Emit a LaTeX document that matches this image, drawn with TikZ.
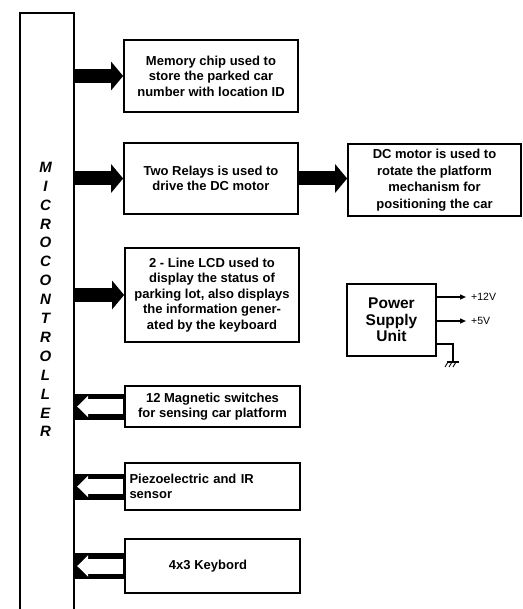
\documentclass[tikz,border=0pt]{standalone}
\usepackage{fontspec}
\setmainfont{Liberation Sans}
\usetikzlibrary{arrows.meta,calc}
\begin{document}
\begin{tikzpicture}[x=1pt,y=-1pt,
  box/.style={draw, line width=1.7pt, rectangle, inner sep=2pt, align=center,
    font=\bfseries\fontsize{13}{15.5}\selectfont},
  outarrow/.style={line width=14pt, -{Triangle[length=12pt,width=28pt]}},
  inbar/.style={line width=26pt},
  inhead/.style={white, line width=15pt, -{Triangle[length=11pt,width=21pt]}},
  thin/.style={line width=1.3pt},
  vlabel/.style={anchor=west, inner sep=1pt, font=\fontsize{10.5}{12}\selectfont}
]
\useasboundingbox (0,0) rectangle (522,609);

% microcontroller strip
\node[minimum width=54pt, minimum height=606pt, inner sep=0pt] (mc) at (47,316) {};
\draw[line width=1.7pt] (mc.south west) |- (mc.north east) -- (mc.south east);
\node[align=center, inner sep=0pt, font=\bfseries\itshape\fontsize{15}{18.9}\selectfont]
  (mclabel) at (45.5,299.5) {M\\I\\C\\R\\O\\C\\O\\N\\T\\R\\O\\L\\L\\E\\R};

% output blocks
\node[box, minimum width=174pt, minimum height=72pt] (mem) at (211,76)
  {Memory chip used to\\store the parked car\\number with location ID};
\node[box, minimum width=174pt, minimum height=71pt] (relay) at (211,178.5)
  {Two Relays is used to\\drive the DC motor};
\node[box, minimum width=173pt, minimum height=72pt, font=\bfseries\fontsize{13}{16.5}\selectfont] (dcm) at (434.5,180)
  {DC motor is used to\\rotate the platform\\mechanism for\hspace*{1.2em}\\positioning the car};
\node[box, minimum width=174pt, minimum height=94pt] (lcd) at (212,295)
  {2 - Line LCD used to\\display the status of\\parking lot, also displays\\the information gener-\\ated by the keyboard};
\node[box, minimum width=89pt, minimum height=72pt, font=\bfseries\fontsize{15.5}{16.5}\selectfont] (psu) at (391.5,320)
  {Power\\Supply\\Unit};

% input blocks
\node[box, minimum width=175pt, minimum height=41pt] (mag) at (212.5,406.5)
  {12 Magnetic switches\\for sensing car platform};
\node[box, minimum width=175pt, minimum height=47pt, align=left, text width=166pt, inner sep=2pt] (piezo) at (212.5,486.5)
  {Piezoelectric and IR\\sensor};
\node[box, minimum width=175pt, minimum height=54pt] (kbd) at (212.5,566)
  {4x3 Keybord\hspace*{9pt}};

% output arrows
\foreach \b in {mem,relay,lcd}
  \draw[outarrow] (mc.east |- \b.west) -- (\b.west);
\draw[outarrow] (relay.east) -- (dcm.west |- relay.east);

% input (hollow) arrows
\foreach \b in {mag,piezo,kbd}{
  \draw[inbar] (\b.west) -- (mc.east |- \b.west);
  \draw[inhead, shorten <=1pt] (\b.west) -- ($(mc.east |- \b.west)+(3,0)$);
}

% power supply outputs
\coordinate (v12) at (466,297);
\coordinate (v5) at (466,321);
\draw[thin, -{Triangle[length=6pt,width=5pt]}] (psu.east |- v12) -- (v12);
\draw[thin, -{Triangle[length=6pt,width=5pt]}] (psu.east |- v5) -- (v5);
\node[vlabel] (l12) at ($(v12)+(4,0)$) {+12V};
\node[vlabel] (l5) at ($(v5)+(4,0)$) {+5V};

% ground
\coordinate (gnd) at (453,362);
\draw[thin] ($(psu.east)+(0,24)$) -| (gnd);
\draw[thin] ($(gnd)+(-6,0)$) -- ($(gnd)+(6,0)$);
\foreach \dx in {-5,-1,3}
  \draw[line width=0.9pt] ($(gnd)+(\dx,0)$) -- ++(-3,5);
\end{tikzpicture}
\end{document}
